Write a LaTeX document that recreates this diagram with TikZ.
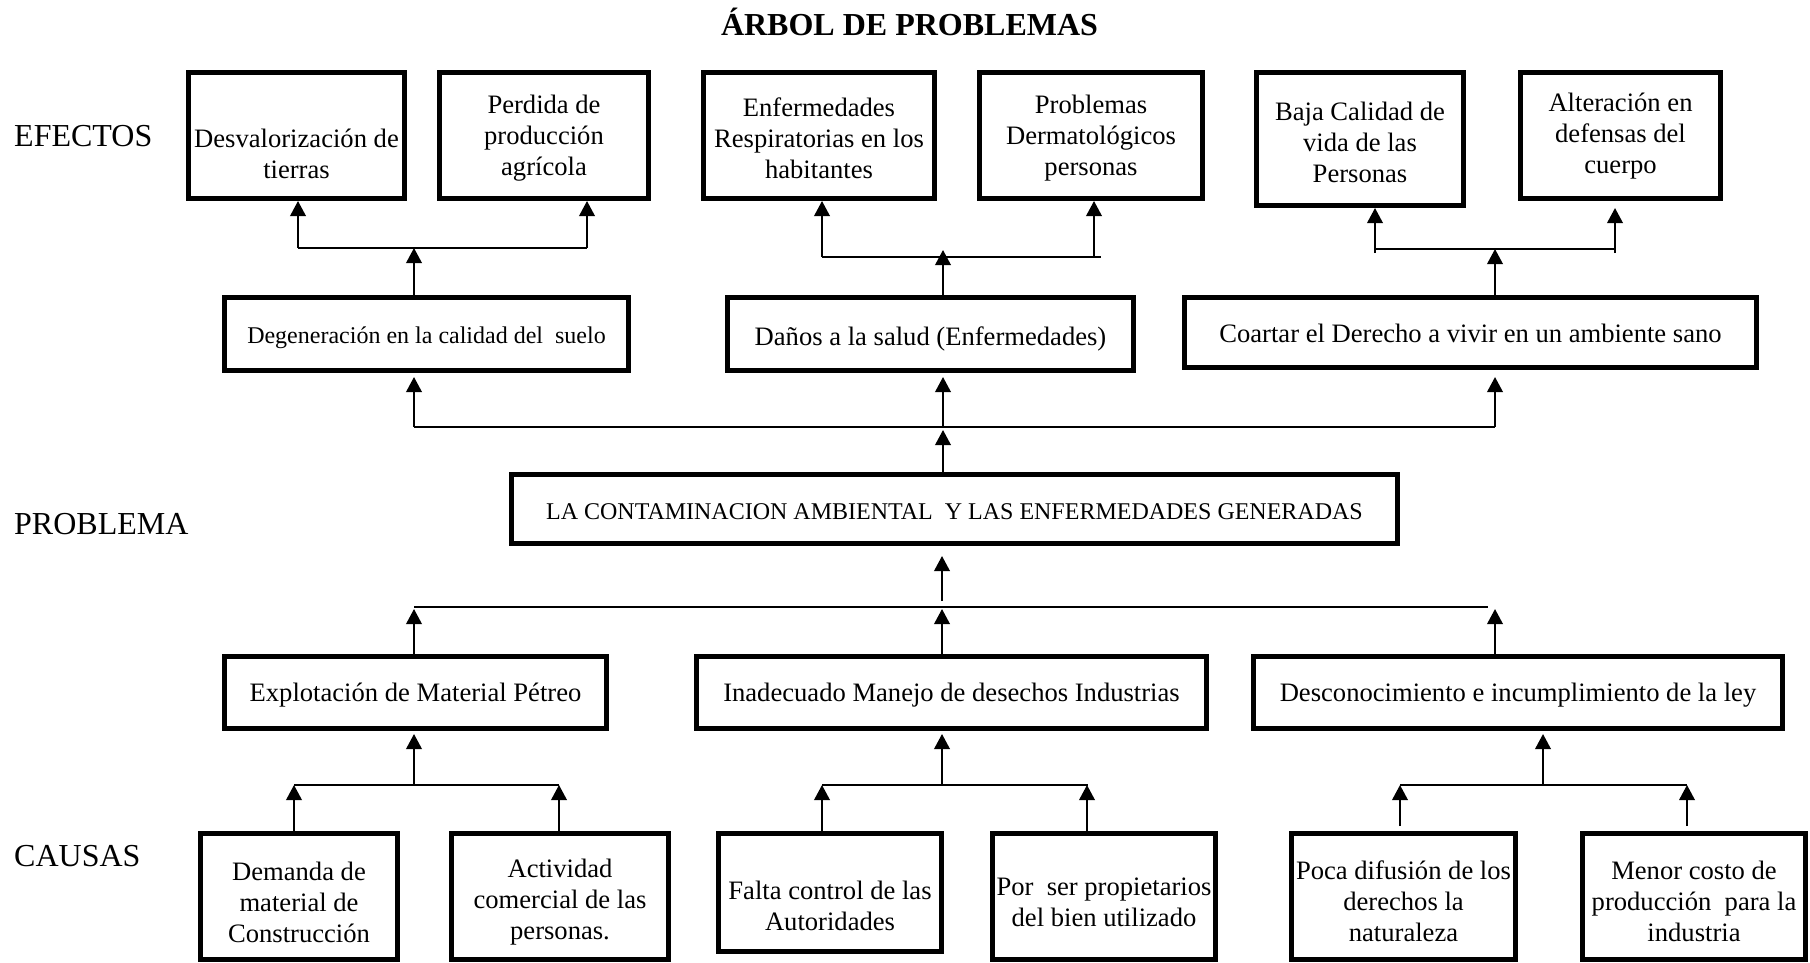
\documentclass[tikz,border=0pt]{standalone}
\usepackage{fontspec}
\setmainfont{Liberation Serif}
\usetikzlibrary{arrows.meta}
\begin{document}
\begin{tikzpicture}[x=1pt,y=-1pt,
  box/.style={draw, line width=5pt, inner sep=0pt},
  txt/.style={align=center, font=\fontsize{26.6pt}{31pt}\selectfont, inner sep=0pt},
  txts/.style={align=center, font=\fontsize{24pt}{29pt}\selectfont, inner sep=0pt, anchor=base},
  ln/.style={line width=2pt},
  arr/.style={line width=2pt, -{Triangle[length=15pt,width=15.5pt]}},
  side/.style={font=\fontsize{32pt}{38pt}\selectfont, anchor=base west, inner sep=0pt}]
\useasboundingbox (0,0) rectangle (1810,962);

% title and side labels
\node[font=\fontsize{32pt}{38pt}\selectfont\bfseries, anchor=base, inner sep=0pt] (title) at (909.5,35) {ÁRBOL DE PROBLEMAS};
\node[side] (lefectos) at (14,146) {EFECTOS};
\node[side] (lproblema) at (14,534) {PROBLEMA};
\node[side] (lcausas) at (14,866) {CAUSAS};

% effects
\node[box, minimum width=216pt, minimum height=126pt] (e1) at (296.5,135.5) {};
\node[box, minimum width=209pt, minimum height=126pt] (e2) at (544,135.5) {};
\node[box, minimum width=231pt, minimum height=126pt] (e3) at (819,135.5) {};
\node[box, minimum width=223pt, minimum height=126pt] (e4) at (1091,135.5) {};
\node[box, minimum width=207pt, minimum height=133pt] (e5) at (1360,139) {};
\node[box, minimum width=200pt, minimum height=126pt] (e6) at (1620.5,135.5) {};
\node[txt] (e1t) at (296.5,153.5) {Desvalorización de\\tierras};
\node[txt] (e2t) at (544,138) {Perdida de\\producción\\agrícola};
\node[txt] (e3t) at (819,138) {Enfermedades\\Respiratorias en los\\habitantes};
\node[txt] (e4t) at (1091,138) {Problemas\\Dermatológicos\\personas};
\node[txt] (e5t) at (1360,142) {Baja Calidad de\\vida de las\\Personas};
\node[txt] (e6t) at (1620.5,136.5) {Alteración en\\defensas del\\cuerpo};

% direct effects
\node[box, minimum width=404pt, minimum height=73pt] (d1) at (426.5,334) {};
\node[box, minimum width=406pt, minimum height=73pt] (d2) at (930.5,334) {};
\node[box, minimum width=572pt, minimum height=70pt] (d3) at (1470.5,332.5) {};
\node[txts] (d1t) at (426.5,343) {Degeneración en la calidad del\ \ suelo};
\node[txt, anchor=base] (d2t) at (930.5,345) {Daños a la salud (Enfermedades)};
\node[txt, anchor=base] (d3t) at (1470.5,342) {Coartar el Derecho a vivir en un ambiente sano};

% problem
\node[box, minimum width=886pt, minimum height=69pt] (p) at (954.5,509) {};
\node[txts] (pt) at (954.5,519) {LA CONTAMINACION AMBIENTAL\ \ Y LAS ENFERMEDADES GENERADAS};

% direct causes
\node[box, minimum width=382pt, minimum height=72pt] (c1) at (415.5,692.5) {};
\node[box, minimum width=510pt, minimum height=72pt] (c2) at (951.5,692.5) {};
\node[box, minimum width=529pt, minimum height=72pt] (c3) at (1518,692.5) {};
\node[txt, anchor=base] (c1t) at (415.5,701) {Explotación de Material Pétreo};
\node[txt, anchor=base] (c2t) at (951.5,701) {Inadecuado Manejo de desechos Industrias};
\node[txt, anchor=base] (c3t) at (1518,701) {Desconocimiento e incumplimiento de la ley};

% root causes
\node[box, minimum width=197pt, minimum height=126pt] (s1) at (299,896.5) {};
\node[box, minimum width=217pt, minimum height=126pt] (s2) at (560,896.5) {};
\node[box, minimum width=223pt, minimum height=118pt] (s3) at (830,892.5) {};
\node[box, minimum width=223pt, minimum height=126pt] (s4) at (1104,896.5) {};
\node[box, minimum width=224pt, minimum height=126pt] (s5) at (1403.5,896.5) {};
\node[box, minimum width=223pt, minimum height=126pt] (s6) at (1694,896.5) {};
\node[txt] (s1t) at (299,902) {Demanda de\\material de\\Construcción};
\node[txt] (s2t) at (560,902) {Actividad\\comercial de las\\personas.};
\node[txt] (s3t) at (830,906) {Falta control de las\\Autoridades};
\node[txt] (s4t) at (1104,902) {Por\ \ ser propietarios\\del bien utilizado};
\node[txt] (s5t) at (1403.5,901) {Poca difusión de los\\derechos la\\naturaleza};
\node[txt] (s6t) at (1694,901) {Menor costo de\\producción\ \ para la\\industria};

% bus coordinates
\coordinate (aL) at (298,248); \coordinate (aR) at (587,248); \coordinate (aM) at (414,248);
\coordinate (bL) at (822,257); \coordinate (bR) at (1094,257); \coordinate (bE) at (1101,257); \coordinate (bT) at (943,250);
\coordinate (cL) at (1375,249); \coordinate (cR) at (1615,249); \coordinate (cM) at (1495,249);
\coordinate (cLb) at (1375,253); \coordinate (cRb) at (1615,253);
\coordinate (dL) at (414,427); \coordinate (dR) at (1495,427); \coordinate (dM) at (943,427);
\coordinate (eL) at (414,607); \coordinate (eR) at (1488,607); \coordinate (eM) at (942,607);
\coordinate (eX) at (1495,607); \coordinate (eS) at (942,601);
\coordinate (fL) at (294,785); \coordinate (fR) at (559,785); \coordinate (fM) at (414,785);
\coordinate (gL) at (822,785); \coordinate (gR) at (1087,785); \coordinate (gE) at (1088,785); \coordinate (gM) at (942,785);
\coordinate (hL) at (1400,785); \coordinate (hR) at (1687,785); \coordinate (hM) at (1543,785);

% effects buses
\draw[ln] (aL) -- (aR);
\draw[arr] (aL) -- (aL |- e1.south);
\draw[arr] (aR) -- (aR |- e2.south);
\draw[arr] (aM |- d1.north) -- (aM);

\draw[ln] (bL) -- (bE);
\draw[arr] (bL) -- (bL |- e3.south);
\draw[arr] (bR) -- (bR |- e4.south);
\draw[arr] (bT |- d2.north) -- (bT);

\draw[ln] (cL) -- (cR);
\draw[arr] (cLb) -- (cLb |- e5.south);
\draw[arr, shorten >=7pt] (cRb) -- (cRb |- e6.south);
\draw[arr] (cM |- d3.north) -- (cM);

% problem to direct effects
\draw[ln] (dL) -- (dR);
\draw[arr, shorten >=4pt] (dL) -- (dL |- d1.south);
\draw[arr, shorten >=4pt] (dM) -- (dM |- d2.south);
\draw[arr, shorten >=7pt] (dR) -- (dR |- d3.south);
\draw[arr, shorten >=3pt] (dM |- p.north) -- (dM);

% direct causes to problem
\draw[ln] (eL) -- (eR);
\draw[arr, shorten >=2pt] (eL |- c1.north) -- (eL);
\draw[arr, shorten >=2pt] (eM |- c2.north) -- (eM);
\draw[arr, shorten >=2pt] (eX |- c3.north) -- (eX);
\draw[arr, shorten >=10pt] (eS) -- (eS |- p.south);

% root causes to direct causes
\draw[ln] (fL) -- (fR);
\draw[arr, shorten >=3pt] (fM) -- (fM |- c1.south);
\draw[arr] (fL |- s1.north) -- (fL);
\draw[arr] (fR |- s2.north) -- (fR);

\draw[ln] (gL) -- (gE);
\draw[arr, shorten >=3pt] (gM) -- (gM |- c2.south);
\draw[arr] (gL |- s3.north) -- (gL);
\draw[arr] (gR |- s4.north) -- (gR);

\draw[ln] (hL) -- (hR);
\draw[arr, shorten >=3pt] (hM) -- (hM |- c3.south);
\draw[arr, shorten <=5pt] (hL |- s5.north) -- (hL);
\draw[arr, shorten <=5pt] (hR |- s6.north) -- (hR);
\end{tikzpicture}
\end{document}
